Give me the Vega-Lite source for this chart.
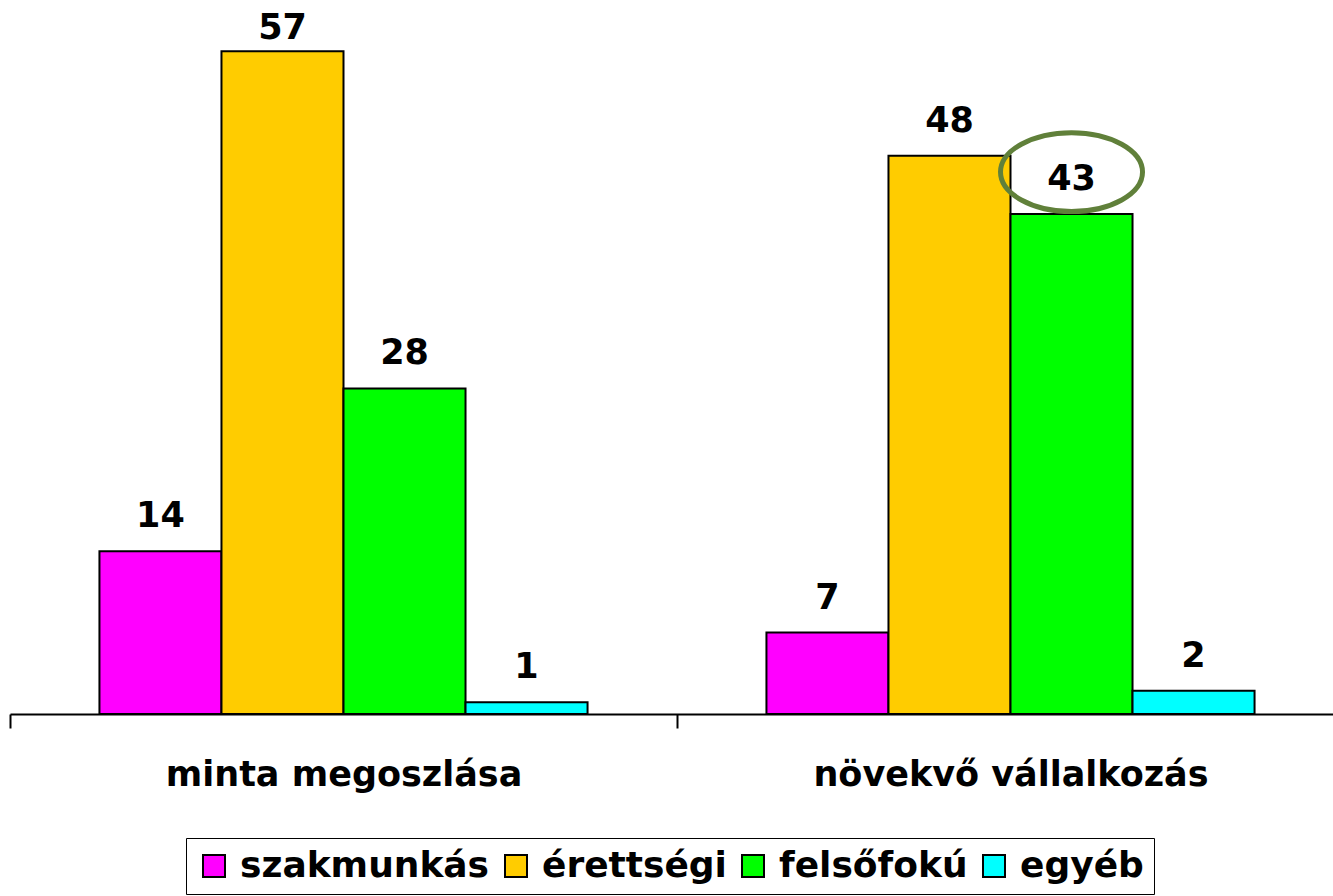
{
  "$schema": "https://vega.github.io/schema/vega-lite/v6.json",
  "autosize": {"type": "none"},
  "padding": {"left": 10, "top": 0, "right": 0, "bottom": 182},
  "width": 1323,
  "height": 714,
  "background": "white",
  "config": {"view": {"stroke": null}},
  "layer": [
    {
      "data": {"values": [
        {"group": "minta megoszlása", "category": "szakmunkás", "value": 14},
        {"group": "minta megoszlása", "category": "érettségi", "value": 57},
        {"group": "minta megoszlása", "category": "felsőfokú", "value": 28},
        {"group": "minta megoszlása", "category": "egyéb", "value": 1},
        {"group": "növekvő vállalkozás", "category": "szakmunkás", "value": 7},
        {"group": "növekvő vállalkozás", "category": "érettségi", "value": 48},
        {"group": "növekvő vállalkozás", "category": "felsőfokú", "value": 43},
        {"group": "növekvő vállalkozás", "category": "egyéb", "value": 2}
      ]},
      "layer": [
        {
          "mark": {"type": "bar", "stroke": "black", "strokeWidth": 2},
          "encoding": {
            "x": {"field": "group", "type": "nominal", "sort": null,
              "scale": {"range": [0, 1334], "paddingInner": 0, "paddingOuter": 0},
              "axis": {"title": null, "labelAngle": 0, "domainColor": "black", "domainWidth": 2,
                "tickColor": "black", "tickWidth": 2, "tickSize": 14, "tickBand": "extent",
                "labelFont": "DejaVu Sans", "labelFontSize": 35, "labelFontWeight": "bold",
                "labelColor": "black", "labelPadding": 29, "labelLimit": 700}},
            "xOffset": {"field": "category", "type": "nominal",
              "scale": {"domain": ["szakmunkás", "érettségi", "felsőfokú", "egyéb"], "paddingInner": 0, "paddingOuter": 0.733}},
            "y": {"field": "value", "type": "quantitative",
              "scale": {"domain": [0, 61.4], "nice": false, "zero": true}, "axis": null},
            "color": {"field": "category", "type": "nominal",
              "scale": {"domain": ["szakmunkás", "érettségi", "felsőfokú", "egyéb"],
                "range": ["#FF00FF", "#FFCC00", "#00FF00", "#00FFFF"]},
              "legend": {"title": null, "orient": "none", "legendX": 176, "legendY": 838,
                "direction": "horizontal", "columns": 4, "strokeColor": "black",
                "padding": 10, "fillColor": "white", "symbolType": "square", "symbolSize": 484,
                "symbolStrokeColor": "black", "symbolStrokeWidth": 2, "symbolOpacity": 1,
                "labelFont": "DejaVu Sans", "labelFontSize": 36, "labelFontWeight": "bold",
                "labelColor": "black", "labelOffset": 8, "columnPadding": 8, "labelLimit": 400}}
          }
        },
        {
          "transform": [{"calculate": "min(datum.value, 56)", "as": "labelPos"}],
          "mark": {"type": "text", "font": "DejaVu Sans", "fontSize": 35, "fontWeight": "bold",
            "color": "black", "baseline": "alphabetic", "dy": -24},
          "encoding": {
            "x": {"field": "group", "type": "nominal", "sort": null},
            "xOffset": {"field": "category", "type": "nominal"},
            "y": {"field": "labelPos", "type": "quantitative"},
            "text": {"field": "value", "type": "quantitative"}
          }
        }
      ]
    },
    {
      "data": {"values": [
        {"group": "növekvő vállalkozás", "category": "felsőfokú", "value": 46.6}
      ]},
      "mark": {"type": "point", "filled": false, "stroke": "#60803A", "strokeWidth": 5, "opacity": 1,
        "size": 20164, "shape": "M-1,0A1,0.556,0,1,0,1,0A1,0.556,0,1,0,-1,0Z"},
      "encoding": {
        "x": {"field": "group", "type": "nominal", "sort": null},
        "xOffset": {"field": "category", "type": "nominal"},
        "y": {"field": "value", "type": "quantitative"}
      }
    }
  ]
}
